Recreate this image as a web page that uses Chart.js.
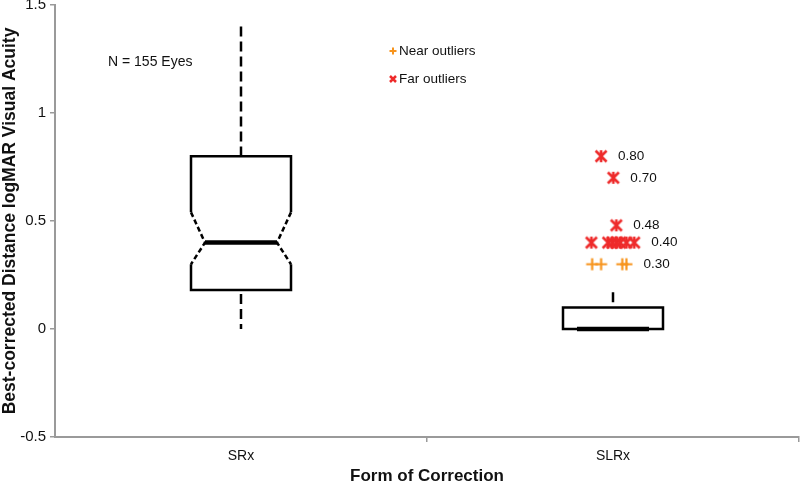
<!DOCTYPE html>
<html><head><meta charset="utf-8">
<script src="https://cdn.jsdelivr.net/npm/chart.js@4/dist/chart.umd.min.js"></script>
<style>html,body{margin:0;padding:0;background:#fff}#wrap{width:800px;height:487px}</style>
</head><body><div id="wrap"><canvas id="c" width="800" height="487"></canvas></div>
<script>
// ---- data ----
const categories = ['SRx', 'SLRx'];
const categoryPos = [0.5, 1.5];
const whiskerMin = [0, 0];
const q1 = [0.18, 0];
const median = [0.40, 0];
const q3 = [0.80, 0.10];
const whiskerMax = [1.40, 0.17];
const notchLow = [0.30, null];
const notchHigh = [0.54, null];
const nearOutliers = [
  {x: 1.444, y: 0.30}, {x: 1.468, y: 0.30}, {x: 1.525, y: 0.30}, {x: 1.536, y: 0.30}
];
const farOutliers = [
  {x: 1.468, y: 0.80}, {x: 1.501, y: 0.70}, {x: 1.509, y: 0.48},
  {x: 1.442, y: 0.40}, {x: 1.487, y: 0.40}, {x: 1.498, y: 0.40}, {x: 1.509, y: 0.40},
  {x: 1.519, y: 0.40}, {x: 1.536, y: 0.40}, {x: 1.557, y: 0.40}
];
const outlierLabelValues = [0.80, 0.70, 0.48, 0.40, 0.30];
const yTicks = [1.5, 1, 0.5, 0, -0.5];
const xTickMarks = [1, 2];
const annotationText = 'N = 155 Eyes';
const legendLabels = ['Near outliers', 'Far outliers'];

// ---- styles ----
const FONT = '"Liberation Sans", Arial, Helvetica, sans-serif';
const RED = '#ee2a2a';
const ORANGE = '#f7941d';
const AXIS = '#9a9a9a';
const AREA_TOP = 5, AREA_RIGHT = 799;

function makeAsterisk(color, r, lw) {
  const c = document.createElement('canvas');
  const s = Math.ceil(2 * r + lw + 2);
  c.width = s; c.height = s;
  const g = c.getContext('2d');
  g.strokeStyle = color; g.lineWidth = lw; g.lineCap = 'butt';
  const m = s / 2;
  g.beginPath();
  g.moveTo(m - r, m - r); g.lineTo(m + r, m + r);
  g.moveTo(m - r, m + r); g.lineTo(m + r, m - r);
  g.moveTo(m, m - r - 0.5); g.lineTo(m, m + r + 0.5);
  g.stroke();
  return c;
}
function makePlus(color, r, lw) {
  const c = document.createElement('canvas');
  const s = Math.ceil(2 * r + lw + 2);
  c.width = s; c.height = s;
  const g = c.getContext('2d');
  g.strokeStyle = color; g.lineWidth = lw;
  const m = s / 2;
  g.beginPath();
  g.moveTo(m - r, m); g.lineTo(m + r, m);
  g.moveTo(m, m - r); g.lineTo(m, m + r);
  g.stroke();
  return c;
}

const boxPlugin = {
  id: 'boxes',
  afterLayout(chart) {
    // stretch plot area to the canvas edge like the original figure
    const ca = chart.chartArea, xs = chart.scales.x, ys = chart.scales.y;
    ca.right = AREA_RIGHT; ca.width = ca.right - ca.left;
    xs.right = AREA_RIGHT; xs.width = xs.right - xs.left; xs.configure();
    ca.top = AREA_TOP; ca.height = ca.bottom - ca.top;
    ys.top = AREA_TOP; ys.height = ys.bottom - ys.top; ys.configure();
  },
  beforeDatasetsDraw(chart) {
    const ctx = chart.ctx, xs = chart.scales.x, ys = chart.scales.y;
    const hw = 50, nw = 36;
    ctx.save();
    ctx.strokeStyle = '#000';
    for (let i = 0; i < categories.length; i++) {
      const cx = xs.getPixelForValue(categoryPos[i]);
      const yQ3 = ys.getPixelForValue(q3[i]);
      const yQ1 = ys.getPixelForValue(q1[i]);
      const yMed = ys.getPixelForValue(median[i]);
      const yMax = ys.getPixelForValue(whiskerMax[i]);
      const yMin = ys.getPixelForValue(whiskerMin[i]);
      ctx.lineWidth = 2.5;
      ctx.setLineDash([10, 5]);
      ctx.beginPath(); ctx.moveTo(cx, yMax); ctx.lineTo(cx, yQ3); ctx.stroke();
      if (yMin - yQ1 > 1) {
        ctx.beginPath(); ctx.moveTo(cx, yQ1 + 4); ctx.lineTo(cx, yMin); ctx.stroke();
      }
      ctx.setLineDash([]);
      if (notchLow[i] !== null && notchHigh[i] !== null) {
        const yNH = ys.getPixelForValue(notchHigh[i]);
        const yNL = ys.getPixelForValue(notchLow[i]);
        ctx.beginPath();
        ctx.moveTo(cx - hw, yNH); ctx.lineTo(cx - hw, yQ3); ctx.lineTo(cx + hw, yQ3); ctx.lineTo(cx + hw, yNH);
        ctx.moveTo(cx + hw, yNL); ctx.lineTo(cx + hw, yQ1); ctx.lineTo(cx - hw, yQ1); ctx.lineTo(cx - hw, yNL);
        ctx.stroke();
        ctx.setLineDash([5, 3]);
        ctx.beginPath();
        ctx.moveTo(cx + hw, yNH); ctx.lineTo(cx + nw, yMed); ctx.lineTo(cx + hw, yNL);
        ctx.moveTo(cx - hw, yNH); ctx.lineTo(cx - nw, yMed); ctx.lineTo(cx - hw, yNL);
        ctx.stroke();
        ctx.setLineDash([]);
      } else {
        ctx.beginPath();
        ctx.rect(cx - hw, yQ3, 2 * hw, yQ1 - yQ3);
        ctx.stroke();
      }
      ctx.lineWidth = 4.5;
      ctx.beginPath(); ctx.moveTo(cx - nw, yMed); ctx.lineTo(cx + nw, yMed); ctx.stroke();
    }
    ctx.restore();
  },
  afterDraw(chart) {
    const ctx = chart.ctx, xs = chart.scales.x, ys = chart.scales.y;
    ctx.save();
    ctx.fillStyle = '#111';
    ctx.textBaseline = 'middle';
    ctx.textAlign = 'left';
    ctx.font = '13.5px ' + FONT;
    const all = nearOutliers.concat(farOutliers);
    outlierLabelValues.forEach(v => {
      const pts = all.filter(p => Math.abs(p.y - v) < 1e-9);
      const maxX = Math.max(...pts.map(p => xs.getPixelForValue(p.x)));
      ctx.fillText(v.toFixed(2), maxX + 17, ys.getPixelForValue(v));
    });
    ctx.font = '14px ' + FONT;
    ctx.fillText(annotationText, 108, 62);
    ctx.font = '13.5px ' + FONT;
    ctx.fillText(legendLabels[0], 399, 51);
    ctx.fillText(legendLabels[1], 399, 79);
    ctx.strokeStyle = ORANGE; ctx.lineWidth = 2;
    ctx.beginPath(); ctx.moveTo(389.5, 51); ctx.lineTo(396.5, 51); ctx.moveTo(393, 47.5); ctx.lineTo(393, 54.5); ctx.stroke();
    ctx.strokeStyle = RED; ctx.lineWidth = 2.5;
    ctx.beginPath(); ctx.moveTo(390, 76); ctx.lineTo(396, 82); ctx.moveTo(390, 82); ctx.lineTo(396, 76); ctx.stroke();
    ctx.restore();
  }
};

new Chart(document.getElementById('c'), {
  type: 'scatter',
  data: {
    datasets: [
      { label: legendLabels[0], data: nearOutliers, pointStyle: makePlus(ORANGE, 6, 2.2), pointRadius: 6 },
      { label: legendLabels[1], data: farOutliers, pointStyle: makeAsterisk(RED, 5.5, 2.6), pointRadius: 6 }
    ]
  },
  options: {
    responsive: false,
    animation: false,
    events: [],
    layout: { padding: { top: 4, right: 0, left: 0, bottom: 0 } },
    plugins: { legend: { display: false }, tooltip: { enabled: false } },
    scales: {
      x: {
        type: 'linear', min: 0, max: 2,
        afterBuildTicks(s) { s.ticks = [0, 0.5, 1, 1.5, 2].map(v => ({ value: v })); },
        afterFit(s) { s.height = 50; s.paddingLeft = 0; s.paddingRight = 0; },
        ticks: {
          autoSkip: false, maxRotation: 0, padding: 6,
          font: { family: FONT, size: 14 }, color: '#111',
          callback(v) { const k = categoryPos.indexOf(v); return k >= 0 ? categories[k] : ''; }
        },
        grid: {
          drawOnChartArea: false, tickLength: 5, lineWidth: 1.5,
          color(c) { return c.tick && xTickMarks.includes(c.tick.value) ? AXIS : 'rgba(0,0,0,0)'; }
        },
        border: { color: AXIS, width: 2 },
        title: { display: true, text: 'Form of Correction', font: { family: FONT, size: 17, weight: 'bold' }, color: '#111', padding: { top: 2, bottom: 0 } }
      },
      y: {
        type: 'linear', min: -0.5, max: 1.5,
        afterBuildTicks(s) { s.ticks = yTicks.map(v => ({ value: v })); },
        afterFit(s) { s.width = 55; s.paddingTop = 0; s.paddingBottom = 0; },
        ticks: { padding: 4, font: { family: FONT, size: 15 }, color: '#111', callback(v) { return String(v); } },
        grid: { drawOnChartArea: false, tickLength: 5, color: AXIS, lineWidth: 1.5 },
        border: { color: AXIS, width: 2 },
        title: { display: true, text: 'Best-corrected Distance logMAR Visual Acuity', font: { family: FONT, size: 17.5, weight: 'bold' }, color: '#111', padding: { top: 0, bottom: 1 } }
      }
    }
  },
  plugins: [boxPlugin]
});
</script>
</body></html>
